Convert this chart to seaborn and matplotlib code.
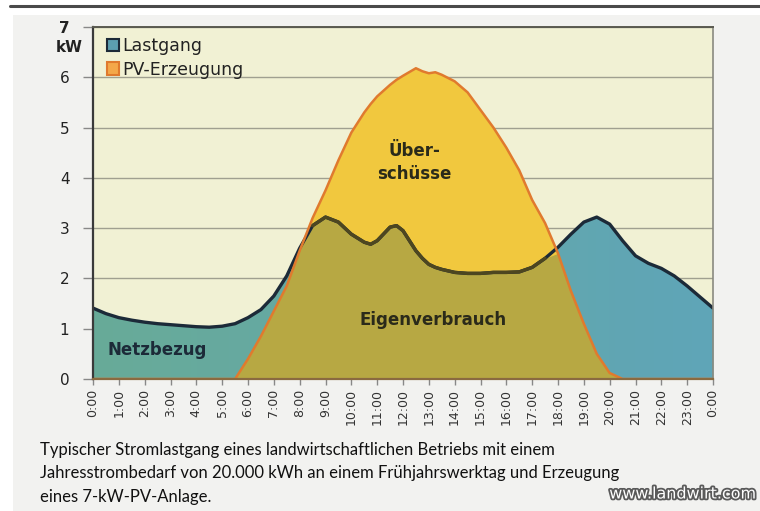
import numpy as np
import pandas as pd
import matplotlib
matplotlib.use("Agg")
import matplotlib.pyplot as plt
import seaborn as sns
from matplotlib.patches import Patch, Rectangle
from matplotlib.lines import Line2D
from matplotlib.colors import LinearSegmentedColormap
import matplotlib.patheffects as pe

# ---- data ----
hours = [0, 0.5, 1, 1.5, 2, 2.5, 3, 3.5, 4, 4.5, 5, 5.5, 6, 6.5, 7, 7.5, 8, 8.5, 9, 9.5, 10,
         10.5, 10.75, 11, 11.5, 11.75, 12, 12.5, 12.75, 13, 13.25, 13.5,
         14, 14.5, 15, 15.5, 16, 16.5, 17, 17.5, 18, 18.5, 19, 19.5, 20, 20.5, 21, 21.5,
         22, 22.5, 23, 23.5, 24]
lastgang = [1.41, 1.30, 1.22, 1.17, 1.13, 1.10, 1.08, 1.06, 1.04, 1.03, 1.05, 1.10, 1.22,
            1.38, 1.65, 2.05, 2.60, 3.05, 3.22, 3.12, 2.88,
            2.72, 2.68, 2.75, 3.02, 3.05, 2.95, 2.55, 2.40, 2.28, 2.22, 2.18,
            2.12, 2.10, 2.10, 2.12, 2.12, 2.13, 2.22, 2.40, 2.62, 2.88, 3.12, 3.22, 3.08,
            2.75, 2.45, 2.30, 2.20, 2.05, 1.85, 1.63, 1.41]
pv = [0, 0, 0, 0, 0, 0, 0, 0, 0, 0, 0, 0,
      0.40, 0.85, 1.35, 1.85, 2.55, 3.20, 3.75, 4.35, 4.90,
      5.30, 5.47, 5.62, 5.85, 5.95, 6.03, 6.18, 6.12, 6.08, 6.10, 6.05,
      5.92, 5.70, 5.35, 5.00, 4.60, 4.15, 3.56, 3.10, 2.50, 1.75, 1.10, 0.50, 0.12,
      0, 0, 0, 0, 0, 0, 0, 0]
tick_hours = list(range(25))
tick_labels = [f"{h % 24}:00" for h in tick_hours]
y_ticks = [0, 1, 2, 3, 4, 5, 6, 7]
series_names = ["Lastgang", "PV-Erzeugung"]
area_labels = ["Netzbezug", "Eigenverbrauch", "Über-\nschüsse"]
caption = ("Typischer Stromlastgang eines landwirtschaftlichen Betriebs mit einem\n"
           "Jahresstrombedarf von 20.000 kWh an einem Frühjahrswerktag und Erzeugung\n"
           "eines 7-kW-PV-Anlage.")

df = pd.DataFrame({"hour": hours, "Lastgang": lastgang, "PV": pv})
df["Eigen"] = np.minimum(df["Lastgang"], df["PV"])

# ---- style ----
sns.set_theme(style="white")
plt.rcParams["font.family"] = ["DejaVu Sans"]

W, H = 760, 511
fig = plt.figure(figsize=(W / 100, H / 100), dpi=100, facecolor="white")
fig.add_artist(Rectangle((13 / W, 0), 1, 1 - 15 / H, transform=fig.transFigure,
                         facecolor="#f2f2f0", edgecolor="none", zorder=-10))
fig.add_artist(Line2D([10 / W, 1], [1 - 6 / H, 1 - 6 / H], transform=fig.transFigure,
                      color="#4a4a4a", lw=2.2))

ax = fig.add_axes([93 / W, 1 - 379 / H, (713 - 93) / W, (379 - 27) / H])
ax.set_facecolor("#f1f1d4")

yellow = "#f1c83e"
olive = "#b7a843"
navy = "#1c2a38"
orange = "#e07a2e"

teal_poly = ax.fill_between(df["hour"], 0, df["Lastgang"], color="#64a8a6", lw=0, zorder=2)
teal_cmap = LinearSegmentedColormap.from_list("teal", ["#68ab98", "#64a8a8", "#5fa5b8"])
grad = ax.imshow(np.linspace(0, 1, 256).reshape(1, -1), cmap=teal_cmap, aspect="auto",
                 extent=[0, 24, 0, 7], zorder=2.1, interpolation="bilinear")
grad.set_clip_path(teal_poly.get_paths()[0], transform=ax.transData)
ax.fill_between(df["hour"], 0, df["PV"], color=yellow, lw=0, zorder=3)
ax.fill_between(df["hour"], 0, df["Eigen"], color=olive, lw=0, zorder=4)

sns.lineplot(data=df, x="hour", y="Lastgang", ax=ax, color=navy, lw=2.4, zorder=6)
inside = df["Lastgang"].where(df["Lastgang"] <= df["PV"] + 0.05)
ax.plot(df["hour"], inside, color="#4d4620", lw=2.4, zorder=7)
sns.lineplot(data=df, x="hour", y="PV", ax=ax, color=orange, lw=1.8, zorder=8)

ax.set_xlim(0, 24)
ax.set_ylim(0, 7)
ax.set_xlabel("")
ax.set_ylabel("")

for yv in y_ticks[1:]:
    ax.axhline(yv, color="#5a5a50" if yv == 7 else "#a0a090", lw=1.6 if yv == 7 else 1.0, zorder=1)

ax.set_yticks(y_ticks)
ax.set_yticklabels([str(v) for v in y_ticks], fontsize=11, color="#222222")
ax.get_yticklabels()[-1].set_fontweight("bold")
ax.set_xticks(tick_hours)
ax.set_xticklabels(tick_labels, rotation=90, fontsize=9, color="#333333")
ax.tick_params(axis="y", length=7, width=1, color="#888888", pad=10, left=True)
ax.tick_params(axis="x", length=4, width=1, color="#888888", pad=3, bottom=True)

ax.spines["left"].set_color("#3a3a3a"); ax.spines["left"].set_linewidth(1.6)
ax.spines["bottom"].set_color("#8a6a40"); ax.spines["bottom"].set_linewidth(1.6)
ax.spines["right"].set_color("#8a8a80"); ax.spines["right"].set_linewidth(1.2)
ax.spines["top"].set_color("#5a5a50"); ax.spines["top"].set_linewidth(1.4)
for s in ax.spines.values():
    s.set_zorder(9)

fig.text(69 / W, 1 - 47 / H, "kW", fontsize=11, fontweight="bold", color="#222222",
         ha="center", va="center")

handles = [Patch(facecolor="#5c9fb0", edgecolor=navy, lw=1.5),
           Patch(facecolor="#f4a84a", edgecolor=orange, lw=1.5)]
leg = ax.legend(handles, series_names, loc="upper left", bbox_to_anchor=(0.005, 1.0),
                frameon=False, fontsize=12.5, handlelength=0.7, handleheight=0.7,
                handletextpad=0.2, labelspacing=0.3, borderaxespad=0.2)
for t in leg.get_texts():
    t.set_color("#222222")

ax.text(2.5, 0.58, area_labels[0], fontsize=12, fontweight="bold", color=navy,
        ha="center", va="center", zorder=10)
ax.text(13.15, 1.18, area_labels[1], fontsize=12, fontweight="bold", color="#2a2a1a",
        ha="center", va="center", zorder=10)
ax.text(12.45, 4.3, area_labels[2], fontsize=12, fontweight="bold", color="#2a2a1a",
        ha="center", va="center", linespacing=1.35, zorder=10)

fig.text(40 / W, 1 - 442 / H, caption, fontsize=12.0, family="Lato", color="#111111",
         ha="left", va="top", linespacing=1.56)
fig.text(757 / W, 1 - 494 / H, "www.landwirt.com", fontsize=11.5,
         color="white", ha="right", va="center",
         path_effects=[pe.withStroke(linewidth=2.6, foreground="#5a5a5a")])

fig.savefig("out.png", dpi=100, facecolor=fig.get_facecolor())
